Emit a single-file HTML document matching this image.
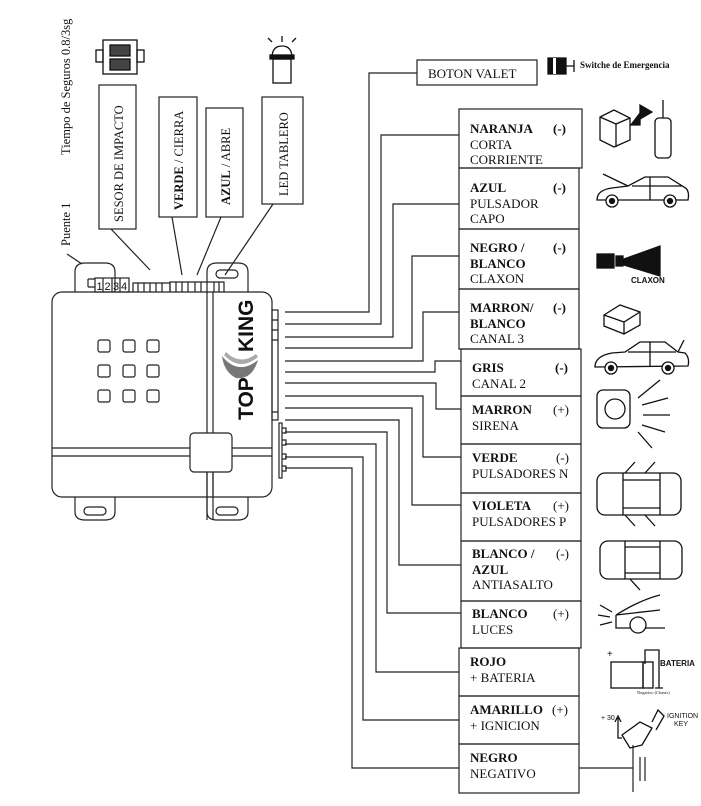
<!DOCTYPE html>
<html><head><meta charset="utf-8"><style>
html,body{margin:0;padding:0;background:#fff;}
svg{display:block;}
text{font-family:"Liberation Serif",serif;fill:#111;}
.b{font-weight:bold;}
</style></head><body>
<svg width="701" height="806" viewBox="0 0 701 806" xmlns="http://www.w3.org/2000/svg">
<g fill="none" stroke="#222" stroke-width="1.2">
<path d="M75,292 V272 Q75,263 85,263 H105 Q115,263 115,272 V292"/>
<path d="M207,292 V272 Q207,263 217,263 H238 Q248,263 248,272 V292"/>
<path d="M75,497 V512 Q75,520 85,520 H105 Q115,520 115,512 V497"/>
<path d="M207,497 V512 Q207,520 217,520 H238 Q248,520 248,512 V497"/>
<rect x="84" y="507" width="22" height="8" rx="4"/>
<rect x="216" y="507" width="22" height="8" rx="4"/>
<rect x="216" y="270" width="22" height="8" rx="4"/>
<rect x="52" y="292" width="220" height="205" rx="10" fill="#fff"/>
<line x1="207" y1="292" x2="207" y2="520"/><line x1="213" y1="292" x2="213" y2="520"/>
<line x1="52" y1="448" x2="190" y2="448"/><line x1="52" y1="456" x2="190" y2="456"/>
<line x1="232" y1="448" x2="272" y2="448"/><line x1="232" y1="456" x2="272" y2="456"/>
<rect x="190" y="433" width="42" height="39" rx="4" fill="#fff"/>
<line x1="207" y1="472" x2="207" y2="497"/><line x1="213" y1="472" x2="213" y2="497"/>
<rect x="98" y="340" width="12" height="12" rx="2"/><rect x="123" y="340" width="12" height="12" rx="2"/><rect x="147" y="340" width="12" height="12" rx="2"/>
<rect x="98" y="365" width="12" height="12" rx="2"/><rect x="123" y="365" width="12" height="12" rx="2"/><rect x="147" y="365" width="12" height="12" rx="2"/>
<rect x="98" y="390" width="12" height="12" rx="2"/><rect x="123" y="390" width="12" height="12" rx="2"/><rect x="147" y="390" width="12" height="12" rx="2"/>
<path d="M88,279 H95 M88,287 H95 M88,279 V287"/>
<rect x="95" y="278" width="34" height="14"/>
<path d="M103,278 V292 M112,278 V292 M120,278 V292"/>
<path d="M133,292 V283 H170 V292 M138,283 V292 M144,283 V292 M150,283 V292 M156,283 V292 M162,283 V292"/>
<path d="M170,292 V282 H224 V292 M176,282 V292 M182,282 V292 M188,282 V292 M195,282 V292 M201,282 V292 M214,282 V292 M219,282 V292"/>
<rect x="272" y="310" width="6" height="110"/>
<path d="M272,320 H278 M272,330 H278 M272,340 H278 M272,412 H278"/>
<rect x="279" y="423" width="3" height="55"/>
<path d="M282,428 h4 v5 h-4 M282,440 h4 v5 h-4 M282,454 h4 v5 h-4 M282,466 h4 v5 h-4"/>
<polyline points="285,312 369,312 369,73 417,73"/>
<polyline points="285,324 381,324 381,135 459,135"/>
<polyline points="285,337 393,337 393,204 459,204"/>
<polyline points="285,348 412,348 412,256 459,256"/>
<polyline points="285,361 423,361 423,312 459,312"/>
<polyline points="285,372 435,372 435,361 461,361"/>
<polyline points="285,383 436,383 436,409 461,409"/>
<polyline points="285,396 423,396 423,457 461,457"/>
<polyline points="285,408 412,408 412,505 461,505"/>
<polyline points="285,420 399,420 399,565 461,565"/>
<polyline points="285,432 387,432 387,613 461,613"/>
<polyline points="285,444 376,444 376,672 459,672"/>
<polyline points="285,457 363,457 363,720 459,720"/>
<polyline points="285,468 352,468 352,768 459,768"/>
<line x1="579" y1="768" x2="633" y2="768"/>
<line x1="633" y1="745" x2="633" y2="792"/>
<line x1="640" y1="757" x2="640" y2="781"/><line x1="645" y1="757" x2="645" y2="781"/>
<rect x="417" y="60" width="120" height="25"/>
<rect x="459" y="109" width="123" height="59"/>
<rect x="459" y="168" width="120" height="61"/>
<rect x="459" y="229" width="120" height="60"/>
<rect x="459" y="289" width="120" height="60"/>
<rect x="461" y="349" width="120" height="47"/>
<rect x="461" y="396" width="120" height="48"/>
<rect x="461" y="444" width="120" height="49"/>
<rect x="461" y="493" width="120" height="48"/>
<rect x="461" y="541" width="120" height="60"/>
<rect x="461" y="601" width="120" height="47"/>
<rect x="459" y="648" width="120" height="48"/>
<rect x="459" y="696" width="120" height="48"/>
<rect x="459" y="744" width="120" height="49"/>
<rect x="99" y="85" width="37" height="144"/>
<rect x="159" y="97" width="38" height="120"/>
<rect x="206" y="108" width="37" height="109"/>
<rect x="262" y="97" width="41" height="107"/>
<line x1="111" y1="229" x2="150" y2="270"/>
<line x1="172" y1="217" x2="182" y2="275"/>
<line x1="221" y1="217" x2="197" y2="275"/>
<line x1="273" y1="204" x2="225" y2="275"/>
<line x1="67" y1="254" x2="82" y2="264"/>
</g>
<text x="96.5" y="290" style="font-family:'Liberation Sans',sans-serif" font-size="11">1</text>
<text x="104.5" y="290" style="font-family:'Liberation Sans',sans-serif" font-size="11">2</text>
<text x="113" y="290" style="font-family:'Liberation Sans',sans-serif" font-size="11">3</text>
<text x="121" y="290" style="font-family:'Liberation Sans',sans-serif" font-size="11">4</text>
<text transform="translate(253,420) rotate(-90)" font-size="21" font-weight="bold" style="font-family:'Liberation Sans',sans-serif">TOP</text>
<text transform="translate(253,352) rotate(-90)" font-size="21" font-weight="bold" style="font-family:'Liberation Sans',sans-serif">KING</text>
<path d="M222,356 Q238,376 258,360 Q252,380 236,378 Q224,372 222,356Z" fill="#777"/>
<path d="M226,352 Q240,366 256,354 L258,357 Q240,372 224,355Z" fill="#aaa"/>
<text transform="translate(70,155) rotate(-90)" font-size="12.5">Tiempo de Seguros 0.8/3sg</text>
<text transform="translate(70,246) rotate(-90)" font-size="12.5">Puente 1</text>
<text transform="translate(123,222) rotate(-90)" font-size="12.5">SESOR  DE IMPACTO</text>
<text transform="translate(183,210) rotate(-90)" font-size="12.5"><tspan class="b">VERDE</tspan> / CIERRA</text>
<text transform="translate(230,205) rotate(-90)" font-size="12.5"><tspan class="b">AZUL</tspan> / ABRE</text>
<text transform="translate(288,196) rotate(-90)" font-size="12.5">LED TABLERO</text>
<g font-size="13">
<text x="428" y="78">BOTON VALET</text>
<text x="470" y="133" class="b">NARANJA</text><text x="553" y="133" class="b">(-)</text>
<text x="470" y="149">CORTA</text><text x="470" y="164">CORRIENTE</text>
<text x="470" y="192" class="b">AZUL</text><text x="553" y="192" class="b">(-)</text>
<text x="470" y="208">PULSADOR</text><text x="470" y="223">CAPO</text>
<text x="470" y="252" class="b">NEGRO /</text><text x="553" y="252" class="b">(-)</text>
<text x="470" y="268" class="b">BLANCO</text><text x="470" y="283">CLAXON</text>
<text x="470" y="312" class="b">MARRON/</text><text x="553" y="312" class="b">(-)</text>
<text x="470" y="328" class="b">BLANCO</text><text x="470" y="343">CANAL 3</text>
<text x="472" y="372" class="b">GRIS</text><text x="555" y="372" class="b">(-)</text>
<text x="472" y="388">CANAL 2</text>
<text x="472" y="414" class="b">MARRON</text><text x="553" y="414">(+)</text>
<text x="472" y="430">SIRENA</text>
<text x="472" y="462" class="b">VERDE</text><text x="556" y="462">(-)</text>
<text x="472" y="478">PULSADORES N</text>
<text x="472" y="510" class="b">VIOLETA</text><text x="553" y="510">(+)</text>
<text x="472" y="526">PULSADORES P</text>
<text x="472" y="558" class="b">BLANCO /</text><text x="556" y="558">(-)</text>
<text x="472" y="574" class="b">AZUL</text><text x="472" y="589">ANTIASALTO</text>
<text x="472" y="618" class="b">BLANCO</text><text x="553" y="618">(+)</text>
<text x="472" y="634">LUCES</text>
<text x="470" y="666" class="b">ROJO</text><text x="470" y="682">+ BATERIA</text>
<text x="470" y="714" class="b">AMARILLO</text><text x="552" y="714">(+)</text>
<text x="470" y="730">+ IGNICION</text>
<text x="470" y="762" class="b">NEGRO</text><text x="470" y="778">NEGATIVO</text>
</g>
<text x="580" y="68" font-size="9" class="b">Switche de Emergencia</text>
<g stroke="#111" stroke-width="1.3" fill="none">
<rect x="548" y="58" width="18" height="16" fill="#111"/><rect x="553" y="58" width="3" height="16" fill="#fff" stroke="none"/>
<path d="M566,66 H574 M574,60 V72"/>
<rect x="103" y="40" width="34" height="34" fill="#fff"/>
<rect x="96" y="50" width="7" height="12"/><rect x="137" y="50" width="7" height="12"/>
<rect x="110" y="45" width="20" height="11" fill="#444"/><rect x="110" y="59" width="20" height="11" fill="#444"/>
<path d="M272,58 Q272,46 282,46 Q292,46 292,58"/><rect x="270" y="55" width="24" height="4" fill="#111"/>
<rect x="273" y="59" width="18" height="24"/>
<path d="M272,42 L268,38 M282,42 V36 M292,42 L296,38"/>
<path d="M600,117 L614,110 L630,118 L630,140 L614,147 L600,140Z M600,117 L616,124 L630,118 M616,124 V147"/>
<path d="M630,125 H640 V112 M640,105 L652,112 L640,119Z" fill="#111"/>
<rect x="655" y="118" width="16" height="40" rx="4"/><path d="M663,118 V100"/>
<path d="M597,200 Q597,190 612,188 L628,186 L645,177 L668,177 L684,187 Q690,190 688,200 Z M632,186 H682 M650,177 V200"/>
<path d="M628,186 L603,174"/><circle cx="612" cy="201" r="6" fill="#fff"/><circle cx="670" cy="201" r="6" fill="#fff"/>
<circle cx="612" cy="201" r="2.5" fill="#111"/><circle cx="670" cy="201" r="2.5" fill="#111"/>
<rect x="597" y="254" width="17" height="14" fill="#111"/><rect x="616" y="256" width="7" height="10" fill="#111"/>
<path d="M624,259 L660,246 L660,276 L624,265Z" fill="#111"/>
<path d="M604,315 L620,305 L640,312 L640,325 L624,334 L604,326Z M604,315 L624,322 L640,312 M624,322 V334" />
<path d="M595,367 Q595,356 612,353 L625,352 L640,342 L665,342 L678,352 L685,353 Q690,358 688,366 Z M628,352 H676 M650,342 V366 M678,352 L684,340"/>
<circle cx="611" cy="368" r="6" fill="#fff"/><circle cx="668" cy="368" r="6" fill="#fff"/>
<circle cx="611" cy="368" r="2.5" fill="#111"/><circle cx="668" cy="368" r="2.5" fill="#111"/>
<rect x="597" y="390" width="33" height="38" rx="6"/><circle cx="615" cy="409" r="10"/>
<path d="M638,398 L660,380 M642,405 L668,398 M643,415 L670,415 M642,425 L665,432 M638,432 L652,448"/>
<rect x="597" y="473" width="84" height="42" rx="8"/><path d="M623,473 V515 M660,473 V515 M623,480 H660 M623,508 H660"/>
<path d="M625,473 L635,462 M645,473 L655,462 M625,515 L635,526 M645,515 L655,526"/>
<rect x="600" y="541" width="82" height="38" rx="8"/><path d="M625,541 V579 M660,541 V579 M625,547 H660 M625,573 H660 M630,579 L640,590"/>
<path d="M616,615 Q640,600 660,595 M616,615 V628 H665 M616,615 L660,610"/><circle cx="638" cy="625" r="8" fill="#fff"/>
<path d="M600,605 L612,612 M598,615 L610,617 M600,625 L612,622"/>
<rect x="611" y="662" width="32" height="26"/><rect x="643" y="662" width="10" height="26"/>
<path d="M645,664 V650 H659 V688 M655,688 H663"/><text x="607" y="657" font-size="10" stroke="none" fill="#111" font-weight="bold">+</text>
<path d="M622,735 L640,722 L652,728 L642,745 L630,748Z M652,722 L658,710 L664,716 L656,730"/>
<path d="M622,738 H618 V718 M615,722 L618,716 L621,722"/>
</g>
<text x="631" y="283" font-size="8" font-weight="bold" style="font-family:'Liberation Sans',sans-serif">CLAXON</text>
<text x="660" y="666" font-size="8" style="font-family:'Liberation Sans',sans-serif" font-weight="bold">BATERIA</text>
<text x="637" y="694" font-size="4.5">Negativo (Chasis)</text>
<text x="601" y="720" font-size="7" style="font-family:'Liberation Sans',sans-serif">+ 30</text>
<text x="667" y="718" font-size="7" style="font-family:'Liberation Sans',sans-serif">IGNITION</text>
<text x="674" y="726" font-size="7" style="font-family:'Liberation Sans',sans-serif">KEY</text>
</svg>
</body></html>
